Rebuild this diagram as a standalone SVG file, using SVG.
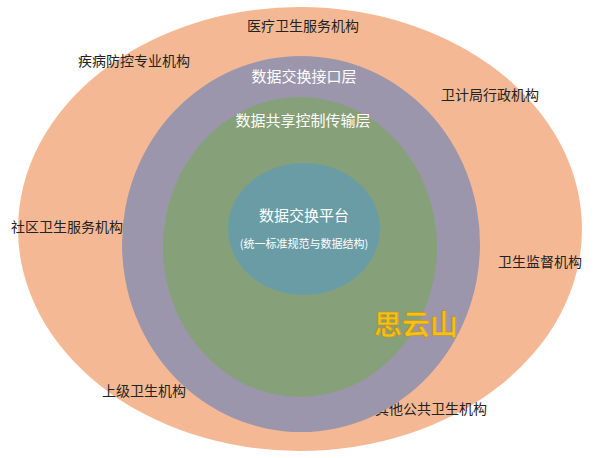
<svg xmlns="http://www.w3.org/2000/svg" width="600" height="458" viewBox="0 0 600 458">
<style>
text{font-family:"Noto Sans CJK SC","Noto Sans",sans-serif;text-anchor:middle}
.o{font-size:14px;fill:#222}
.w{font-size:15px;fill:#fff}
</style>
<rect width="600" height="458" fill="#fff"/>
<g id="outer"><ellipse cx="300" cy="229" rx="282" ry="222" fill="#f4b994"/>
<text class="o" x="303" y="31">医疗卫生服务机构</text>
<text class="o" x="134" y="66">疾病防控专业机构</text>
<text class="o" x="490" y="100">卫计局行政机构</text>
<text class="o" x="67" y="232">社区卫生服务机构</text>
<text class="o" x="540" y="267">卫生监督机构</text>
<text class="o" x="144" y="396">上级卫生机构</text>
<text class="o" x="431" y="414">其他公共卫生机构</text></g>
<g id="layer-interface"><ellipse cx="301" cy="244" rx="179" ry="188" fill="#9c96ac"/>
<text class="w" x="304" y="82">数据交换接口层</text></g>
<g id="layer-control"><ellipse cx="300" cy="247" rx="137" ry="150" fill="#86a17a"/>
<text class="w" x="303" y="126">数据共享控制传输层</text></g>
<g id="platform"><ellipse cx="304" cy="229" rx="76" ry="66" fill="#6a9ca5"/>
<text class="w" x="304" y="221">数据交换平台</text>
<text x="304" y="248" style="font-size:11px;fill:#fff">(统一标准规范与数据结构)</text></g>
<text x="416" y="335" style="font-size:28px;font-weight:bold;fill:#f2c21a;stroke:#c88a10;stroke-width:0.6">思云山</text>
<g id="connectors"/>
</svg>
